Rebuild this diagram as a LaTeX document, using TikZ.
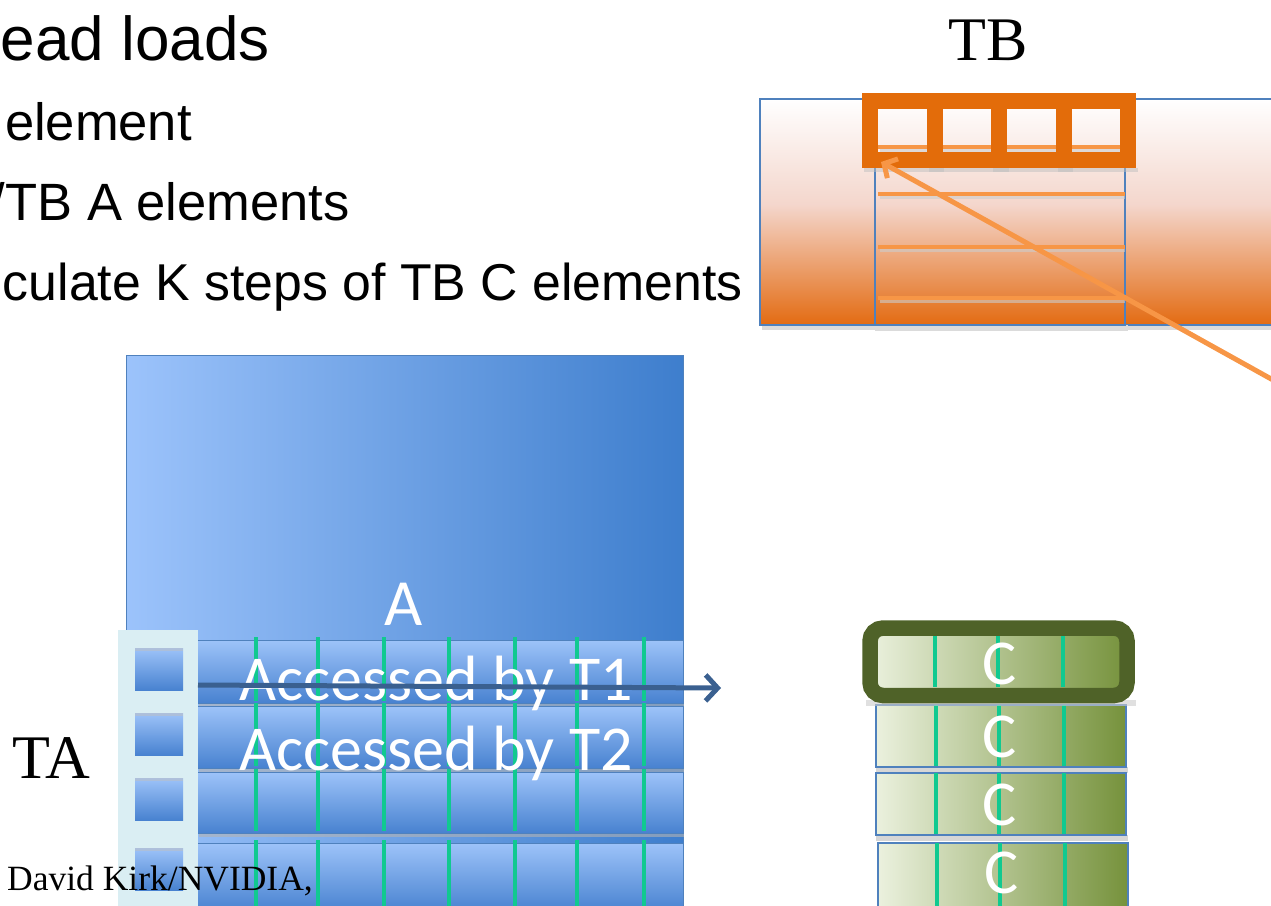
\documentclass[tikz,border=0pt]{standalone}
\usepackage{fontspec}
\setmainfont{Liberation Serif}
\newfontfamily\arialf{Liberation Sans}
\newfontfamily\calibrif{Carlito}
\usetikzlibrary{arrows.meta}

\definecolor{tbdeep}{HTML}{E36B12}
\definecolor{tbmid}{HTML}{F4D6CC}
\definecolor{tbsq}{HTML}{E36C0A}
\definecolor{tbline}{HTML}{F79646}
\definecolor{edgeblue}{HTML}{4F81BD}
\definecolor{aleft}{HTML}{9CC3FB}
\definecolor{aright}{HTML}{3E7ECD}
\definecolor{rowtop}{HTML}{9DC3F9}
\definecolor{rowbot}{HTML}{4882D0}
\definecolor{gridgreen}{HTML}{10C990}
\definecolor{tacol}{HTML}{DAEEF3}
\definecolor{arrowblue}{HTML}{3A6090}
\definecolor{cleft}{HTML}{EBF1DE}
\definecolor{cright}{HTML}{76923C}
\definecolor{chigh}{HTML}{4F6228}

\begin{document}
\begin{tikzpicture}[x=1pt,y=-1pt,
  bullet/.style={font=\arialf\fontsize{52.5}{62}\selectfont, anchor=base east, inner sep=0},
  serifl/.style={font=\fontsize{62}{70}\selectfont, anchor=base, inner sep=0},
  celltext/.style={font=\calibrif\fontsize{64}{76}\selectfont, text=white, anchor=base, inner sep=0},
  arow/.style={top color=rowtop, bottom color=rowbot, draw=edgeblue, line width=0.8},
  crow/.style={left color=cleft, right color=cright, draw=edgeblue, line width=1.2},
  shade3/.style={fill=black!14},
  gline/.style={draw=gridgreen, line width=4.5},
  kline/.style={draw=tbline, line width=4.5},
]
\useasboundingbox (0,0) rectangle (1271,905);

% ---- heading and bullet lines (left part cut by the page edge)
\node[bullet, font=\arialf\fontsize{62}{70}\selectfont] (head) at (270,60) {ead loads};
\node[bullet] (b1) at (192,140) {element};
\node[bullet] (b2) at (350,220) {/TB A elements};
\node[bullet, font=\arialf\fontsize{51.8}{62}\selectfont] (b3) at (743,300) {culate K steps of TB C elements};

% ---- TB tile of matrix B
\node[serifl] (tblabel) at (988,60) {TB};
\fill[shade3] (762,325) rectangle (1280,330);
\shade[top color=white, bottom color=tbmid] (760,99) rectangle (1280,205);
\shade[top color=tbmid, bottom color=tbdeep] (760,204.5) rectangle (1280,325);
\draw[edgeblue, line width=1.5] (1280,99) -- (760,99) -- (760,325) -- (1280,325);
\fill[shade3] (875,325) rectangle (1128,331);
\draw[edgeblue, line width=1.5] (875,99) rectangle (1125,325);
\foreach \y in {147,194,247,298} {
  \fill[black!20, opacity=0.6] (880,\y+2) rectangle (1125,\y+5);
  \draw[kline] (878,\y) -- (1125,\y);
}
\foreach \k in {0,1,2,3} {
  \fill[black!25, opacity=0.5] (864+64.5*\k,168) rectangle (944+64.5*\k,172);
}
\foreach \k in {0,1,2,3} {
  \draw[tbsq, line width=16] (870+64.5*\k,101) rectangle (934.5+64.5*\k,160);
}

% ---- matrix A
\shade[left color=aleft, right color=aright] (126,355) rectangle (683,910);
\draw[edgeblue, line width=1] (126,910) -- (126,355) -- (683,355) -- (683,910);
\node[celltext, font=\calibrif\fontsize{66}{76}\selectfont] (alabel) at (404,625) {A};
\foreach \t/\b in {640/703, 706/768, 772/833, 843/912} {
  \fill[black!30, opacity=0.6] (199,\b) rectangle (684,\b+4);
  \path[arow] (197,\t) rectangle (683,\b);
  \foreach \x in {256,318,384,449,515,577,644}
    \draw[gline] (\x,\t-3) -- (\x,\b-2);
}
\node[celltext] (t1text) at (436,700) {Accessed by T1};
\node[celltext] (t2text) at (436,770) {Accessed by T2};

% ---- TA column of thread elements
\fill[tacol] (118,630) rectangle (198,910);
\foreach \t in {648,713,778,848} {
  \path[top color=rowtop, bottom color=rowbot] (135,\t) rectangle (183,\t+42);
  \fill[black!25, opacity=0.5] (135,\t) rectangle (183,\t+3);
}
\node[serifl] (talabel) at (51,778) {TA};

% ---- row access arrow of thread T1
\coordinate (t1from) at (198,685);
\coordinate (t1to) at (721,688);
\draw[arrowblue, line width=5, -{Straight Barb[length=12pt, width=26pt, line width=5pt]}] (t1from) -- (t1to);

% ---- C tile
\foreach \t/\b/\l in {705/767/876, 773/835/876, 843/912/878} {
  \fill[black!16] (\l,\b) rectangle (\l+252,\b+6);
  \path[crow] (\l,\t) rectangle (\l+250,\b);
}
\shade[left color=cleft, right color=cright] (870,628) rectangle (1127,696);
\foreach \t/\b/\d in {636/688/0, 705/767/1, 773/835/1, 843/912/2} {
  \foreach \x in {935,998,1063}
    \draw[gline] (\x+\d,\t) -- (\x+\d,\b-1);
}
\fill[black!20, opacity=0.6] (866,700) rectangle (1136,706);
\draw[chigh, line width=15.5, rounded corners=13] (870,628) rectangle (1127,695.5);
\node[celltext] (c1) at (1000,684) {C};
\node[celltext] (c2) at (1000,757) {C};
\node[celltext] (c3) at (1000,825) {C};
\node[celltext] (c4) at (1002,893) {C};

% ---- K-step arrow into the B tile
\coordinate (kfrom) at (1300,395);
\coordinate (kto) at (881,162);
\draw[tbline, line width=5, -{Straight Barb[length=10pt, width=22pt, line width=5pt]}] (kfrom) -- (kto);

% ---- credit line
\node[anchor=base west, inner sep=0, font=\fontsize{35.5}{40}\selectfont] (credit) at (7,890) {David Kirk/NVIDIA,};
\end{tikzpicture}
\end{document}
